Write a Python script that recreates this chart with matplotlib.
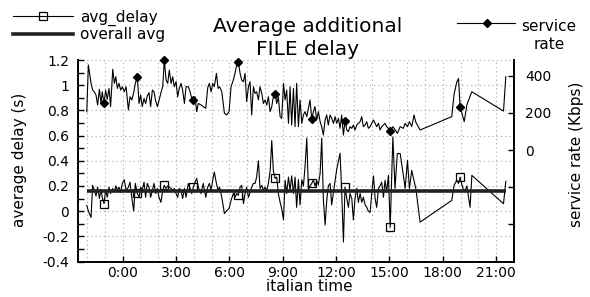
import numpy as np
import matplotlib
matplotlib.use("Agg")
import matplotlib.pyplot as plt
from matplotlib.lines import Line2D
from matplotlib.ticker import MultipleLocator, FixedLocator, FixedFormatter

plt.rcParams['font.family'] = ['DejaVu Sans']

# time of day in hours (negative = before midnight)
time_h = [
    -2.02, -1.93, -1.78, -1.69, -1.60, -1.50, -1.41, -1.31, -1.22, -1.15,
    -1.05, -0.96, -0.87, -0.77, -0.68, -0.56, -0.47, -0.39, -0.30, -0.21,
    -0.11, -0.02, 0.09, 0.19, 0.32, 0.41, 0.51, 0.62, 0.71, 0.82,
    0.92, 1.01, 1.10, 1.20, 1.29, 1.38, 1.48, 1.57, 1.67, 1.76,
    1.85, 1.95, 2.04, 2.15, 2.25, 2.34, 2.44, 2.53, 2.62, 2.72,
    2.81, 2.90, 3.00, 3.09, 3.18, 3.28, 3.37, 3.47, 3.56, 3.69,
    3.79, 3.88, 3.97, 4.07, 4.16, 4.25, 4.40, 4.53, 4.67, 4.78,
    4.87, 4.97, 5.06, 5.15, 5.27, 5.36, 5.45, 5.57, 5.72, 5.85,
    5.98, 6.09, 6.22, 6.32, 6.41, 6.50, 6.60, 6.69, 6.79, 6.88,
    6.97, 7.07, 7.16, 7.25, 7.35, 7.44, 7.53, 7.63, 7.72, 7.82,
    7.91, 8.00, 8.10, 8.19, 8.29, 8.38, 8.47, 8.57, 8.66, 8.75,
    8.85, 8.94, 9.04, 9.13, 9.22, 9.32, 9.41, 9.50, 9.60, 9.69,
    9.78, 9.88, 9.97, 10.07, 10.16, 10.25, 10.35, 10.44, 10.53, 10.63,
    10.72, 10.81, 10.91, 11.00, 11.10, 11.19, 11.28, 11.38, 11.47, 11.56,
    11.66, 11.75, 11.85, 11.94, 12.03, 12.13, 12.22, 12.31, 12.41, 12.50,
    12.60, 12.69, 12.78, 12.88, 12.97, 13.06, 13.16, 13.25, 13.35, 13.44,
    13.53, 13.63, 13.72, 13.81, 13.91, 14.00, 14.10, 14.19, 14.28, 14.38,
    14.47, 14.56, 14.66, 14.75, 14.84, 14.94, 15.04, 15.19, 15.31, 15.44,
    15.60, 15.78, 15.88, 16.01, 16.12, 16.25, 16.38, 16.48, 16.72, 18.50,
    18.63, 18.78, 18.88, 18.97, 19.07, 19.20, 19.35, 19.53, 19.63, 21.41,
    21.54,
]

# service rate (Kbps), right axis
service_rate = [
    206, 458, 359, 323, 314, 296, 243, 327, 251, 314,
    251, 323, 273, 332, 234, 435, 359, 395, 332, 359,
    323, 341, 314, 341, 216, 287, 270, 309, 359, 395,
    251, 296, 234, 278, 251, 291, 309, 234, 323, 314,
    266, 234, 266, 309, 341, 485, 377, 359, 431, 359,
    395, 341, 368, 287, 332, 359, 323, 251, 341, 341,
    314, 278, 270, 287, 207, 251, 243, 234, 225, 336,
    359, 314, 359, 341, 413, 332, 341, 314, 198, 189,
    207, 341, 377, 417, 458, 476, 413, 377, 368, 413,
    261, 341, 368, 189, 341, 305, 314, 270, 341, 305,
    251, 270, 243, 287, 207, 234, 287, 302, 251, 287,
    180, 171, 359, 270, 323, 144, 341, 135, 332, 126,
    359, 126, 270, 144, 189, 207, 180, 225, 270, 167,
    207, 234, 162, 207, 153, 126, 81, 162, 189, 135,
    189, 171, 144, 180, 144, 171, 117, 189, 81, 158,
    108, 99, 126, 117, 135, 108, 135, 144, 153, 180,
    126, 135, 153, 117, 126, 144, 162, 144, 126, 144,
    108, 126, 135, 144, 126, 117, 102, 126, 110, 90,
    126, 117, 144, 126, 153, 126, 189, 150, 108, 180,
    300, 365, 386, 233, 200, 153, 243, 290, 314, 210,
    395,
]

# average additional delay (s), left axis
avg_delay = [
    0.045, 0.00, -0.05, 0.205, 0.17, 0.12, 0.19, 0.10, 0.17, 0.11,
    0.06, 0.17, 0.11, 0.19, 0.14, 0.18, 0.15, 0.20, 0.165, 0.19,
    0.15, 0.22, 0.25, 0.165, 0.19, 0.23, 0.11, 0.0, 0.22, 0.14,
    0.11, 0.19, 0.165, 0.23, 0.11, 0.22, 0.19, 0.11, 0.165, 0.22,
    0.14, 0.18, 0.11, 0.07, 0.165, 0.205, 0.18, 0.20, 0.19, 0.18,
    0.165, 0.18, 0.14, 0.11, 0.18, 0.165, 0.10, 0.18, 0.11, 0.22,
    0.18, 0.14, 0.19, 0.23, 0.26, 0.19, 0.14, 0.22, 0.11, 0.19,
    0.22, 0.165, 0.245, 0.31, 0.22, 0.165, 0.19, 0.11, -0.02, 0.005,
    0.02, 0.085, 0.14, 0.11, 0.14, 0.125, 0.19, 0.205, 0.06, 0.14,
    0.19, 0.11, 0.15, 0.19, 0.22, 0.22, 0.27, 0.40, 0.18, 0.205,
    0.165, 0.19, 0.165, 0.22, 0.32, 0.56, 0.32, 0.26, 0.27, 0.14,
    0.07, 0.02, -0.07, 0.245, 0.14, 0.27, 0.165, 0.28, 0.14, 0.27,
    0.03, 0.25, 0.05, 0.25, 0.20, 0.35, 0.58, 0.17, 0.20, 0.22,
    0.25, 0.20, 0.24, 0.21, 0.30, 0.58, 0.10, -0.11, 0.08, 0.20,
    0.22, 0.05, 0.15, 0.24, 0.33, 0.40, 0.46, 0.165, -0.245, 0.19,
    0.10, 0.03, 0.14, 0.10, -0.07, 0.10, 0.18, 0.07, 0.14, 0.07,
    0.11, 0.05, 0.03, 0.0, -0.01, 0.14, 0.28, 0.10, 0.03, 0.18,
    0.20, 0.23, 0.11, 0.245, 0.15, 0.284, -0.127, 0.59, 0.18, 0.457,
    0.457, 0.284, 0.18, 0.404, 0.18, 0.324, 0.24, 0.18, -0.087, 0.085,
    0.205, 0.245, 0.22, 0.27, 0.21, 0.15, 0.20, 0.03, 0.284, 0.059,
    0.237,
]

overall_avg = 0.163
marker_times = [-1.05, 0.82, 2.34, 3.97, 6.50, 8.57, 10.63, 12.50, 15.04, 18.97]

xtick_hours = [0, 3, 6, 9, 12, 15, 18, 21]
xtick_labels = ['0:00', '3:00', '6:00', '9:00', '12:00', '15:00', '18:00', '21:00']
ytick_left = [-0.4, -0.2, 0, 0.2, 0.4, 0.6, 0.8, 1.0, 1.2]
ytick_left_labels = ['-0.4', '-0.2', '0', '0.2', '0.4', '0.6', '0.8', '1', '1.2']
ytick_right = [-400, -200, 0, 200, 400]
ytick_right_labels = ['', '', '0', '200', '400']

t = np.array(time_h)
mark_idx = [int(np.argmin(np.abs(t - m))) for m in marker_times]

W, H = 590, 297
fig = plt.figure(figsize=(W / 100, H / 100), dpi=100)
L, R, T, B = 77.7, 514.0, 60.0, 261.5
ax = fig.add_axes([L / W, 1 - B / H, (R - L) / W, (B - T) / H])
ax2 = ax.twinx()

ax.set_xlim(-2.53, 22.0)
ax.set_ylim(-0.4, 1.2)
ax2.set_ylim(-600, 485)

# grid
gridkw = dict(color='#b4b4b4', linewidth=0.8, linestyle=(0, (1.2, 2.6)))
ax.xaxis.set_minor_locator(MultipleLocator(1))
ax.xaxis.grid(True, which='both', **gridkw)
ax.yaxis.grid(True, which='major', **gridkw)
ax.set_axisbelow(True)

ax.plot(t, avg_delay, color='black', lw=0.8, marker='s', markevery=mark_idx,
        ms=5.5, mfc='none', mec='black', mew=0.9, zorder=2)
ax.plot(t, np.full_like(t, overall_avg), color='#222222', lw=2.6, zorder=3,
        solid_capstyle='butt')
ax2.plot(t, service_rate, color='black', lw=0.8, marker='D', markevery=mark_idx,
         ms=4.5, mfc='black', mec='black', clip_on=False)

# spines
for a in (ax, ax2):
    a.spines['top'].set_visible(False)
ax.spines['right'].set_visible(False)
ax2.spines['left'].set_visible(False)
ax2.spines['bottom'].set_visible(False)
for s in ('left', 'bottom'):
    ax.spines[s].set_linewidth(1.4)
ax2.spines['right'].set_linewidth(1.4)

# ticks
ax.xaxis.set_major_locator(FixedLocator(xtick_hours))
ax.xaxis.set_major_formatter(FixedFormatter(xtick_labels))
ax.yaxis.set_major_locator(FixedLocator(ytick_left))
ax.yaxis.set_major_formatter(FixedFormatter(ytick_left_labels))
ax.yaxis.set_minor_locator(MultipleLocator(0.1))
ax.tick_params(axis='both', which='major', direction='in', length=4, width=1,
               labelsize=10, top=False, right=False)
ax.tick_params(axis='y', which='major', pad=6)
ax.tick_params(axis='x', which='major', pad=3)
ax.tick_params(axis='y', which='minor', direction='in', length=4, width=1, right=False)
ax.tick_params(axis='x', which='minor', length=0)
ax2.yaxis.set_major_locator(FixedLocator(ytick_right))
ax2.yaxis.set_major_formatter(FixedFormatter(ytick_right_labels))
ax2.tick_params(axis='y', direction='in', length=4, width=1, labelsize=10, pad=8)

# axis labels
fs_lab = 11
fig.text(20 / W, 1 - 160 / H, 'average delay (s)', rotation=90, ha='center',
         va='center', fontsize=fs_lab)
fig.text(576 / W, 1 - 154 / H, 'service rate (Kbps)', rotation=90, ha='center',
         va='center', fontsize=fs_lab)
fig.text(309 / W, 1 - 291 / H, 'italian time', ha='center', va='baseline',
         fontsize=fs_lab)

# title
fig.text(308 / W, 1 - 31.7 / H, 'Average additional', ha='center', va='baseline',
         fontsize=14.5)
fig.text(308 / W, 1 - 55 / H, 'FILE delay', ha='center', va='baseline',
         fontsize=14.5)

# legend (left)
h1 = Line2D([], [], color='black', lw=0.8, marker='s', ms=5.5, mfc='none',
            mec='black', mew=0.9)
h2 = Line2D([], [], color='#222222', lw=2.6)
fig.legend([h1, h2], ['avg_delay', 'overall avg'], loc='upper left',
           bbox_to_anchor=(13 / W, 1 - 9.5 / H), frameon=False, fontsize=fs_lab,
           handlelength=3.9, handletextpad=0.5, labelspacing=0.1,
           borderpad=0, borderaxespad=0)

# legend (right): service rate
ly = 1 - 23.3 / H
fig.add_artist(Line2D([456.7 / W, 486.5 / W, 515 / W], [ly, ly, ly],
                      transform=fig.transFigure, color='black', lw=0.8,
                      marker='D', ms=4.5, markevery=[1]))
fig.text(549 / W, 1 - 30.7 / H, 'service', ha='center', va='baseline', fontsize=fs_lab)
fig.text(549 / W, 1 - 49.3 / H, 'rate', ha='center', va='baseline', fontsize=fs_lab)

fig.savefig('out.png', dpi=100)
